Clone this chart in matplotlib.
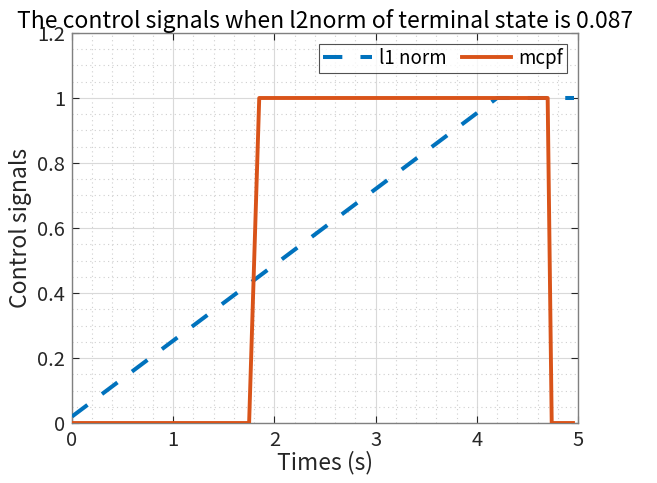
import matplotlib
matplotlib.use("Agg")
import matplotlib.pyplot as plt
from matplotlib.ticker import MultipleLocator

plt.rcParams["font.family"] = ["Noto Sans CJK JP", "DejaVu Sans"]

# ── Data ──────────────────────────────────────────────────────────────────────
l1_t = [0.0, 4.2, 4.96]
l1_u = [0.02, 1.0, 1.0]

mcpf_t = [0.0, 1.75, 1.85, 4.70, 4.74, 4.95]
mcpf_u = [0.0, 0.0, 1.0, 1.0, 0.0, 0.0]

BLUE = "#0072BD"
ORANGE = "#D95319"

fig = plt.figure(figsize=(6.57, 4.83), dpi=100)
ax = fig.add_axes([0.1096, 0.1242, 0.7702, 0.8075])

ax.plot(l1_t, l1_u, color=BLUE, linewidth=2.9, dashes=(4.8, 4.5),
        label="l1 norm", zorder=3)
ax.plot(mcpf_t, mcpf_u, color=ORANGE, linewidth=2.8, label="mcpf", zorder=4)

ax.set_xlim(0, 5)
ax.set_ylim(0, 1.2)
ax.set_xticks([0, 1, 2, 3, 4, 5])
ax.set_yticks([0, 0.2, 0.4, 0.6, 0.8, 1.0, 1.2])
ax.set_yticklabels(["0", "0.2", "0.4", "0.6", "0.8", "1", "1.2"])
ax.xaxis.set_minor_locator(MultipleLocator(0.2))
ax.yaxis.set_minor_locator(MultipleLocator(0.05))

ax.grid(True, which="major", color="#d9d9d9", linewidth=0.8, linestyle="-")
ax.grid(True, which="minor", color="#cfcfcf", linewidth=0.8, linestyle=(0, (1, 3)))
ax.set_axisbelow(True)

ax.tick_params(which="both", direction="in", top=True, right=True,
               labelsize=14.5, colors="#262626", pad=5)
ax.tick_params(which="major", length=5, width=0.8)
ax.tick_params(which="minor", length=0)
for s in ax.spines.values():
    s.set_color("#808080")
    s.set_linewidth(1.0)

ax.set_xlabel("Times (s)", fontsize=16.5, color="#262626", labelpad=0)
ax.set_ylabel("Control signals", fontsize=16.5, color="#262626", labelpad=4)
ax.set_title("The control signals when l2norm of terminal state is 0.087",
             fontsize=16.5, color="black", pad=2)

leg = ax.legend(loc="upper right", ncol=2, fontsize=13.5, frameon=True,
                fancybox=False, handlelength=2.6, columnspacing=0.8,
                borderpad=0.2, handletextpad=0.4, borderaxespad=0.6)
leg.get_frame().set_edgecolor("#262626")
leg.get_frame().set_linewidth(0.8)

fig.savefig("out.png", dpi=100)
